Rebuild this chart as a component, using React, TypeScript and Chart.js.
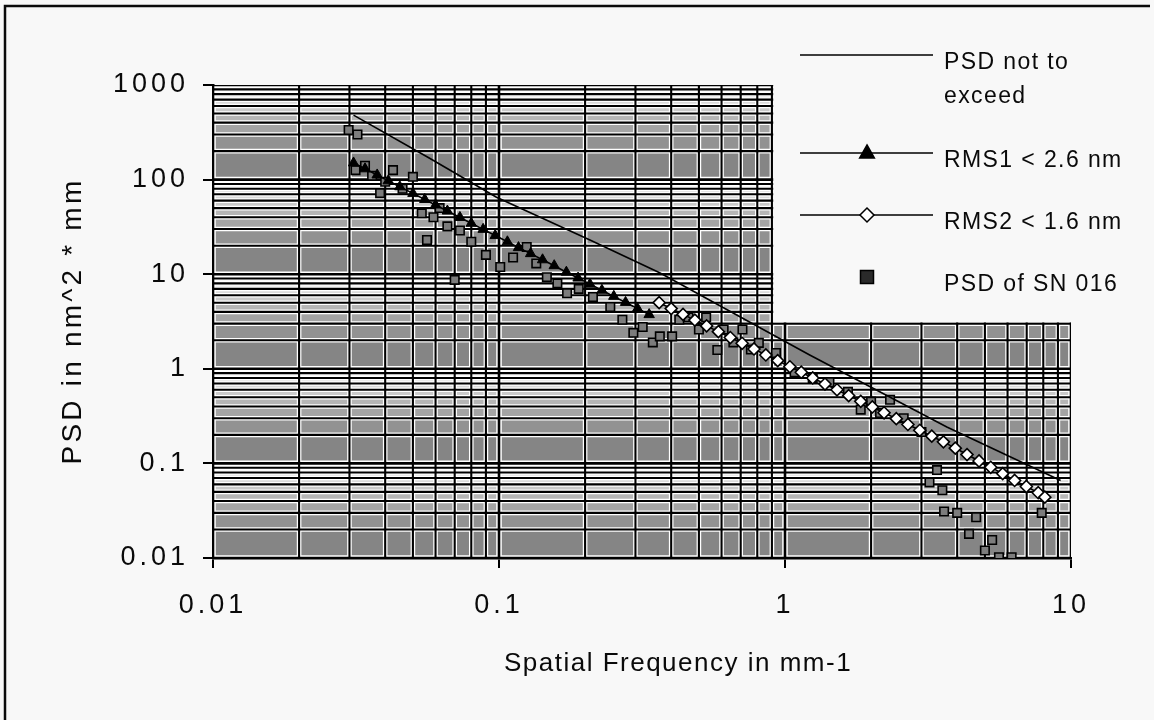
import React, { useEffect, useRef } from 'react';
import { Chart, registerables } from 'chart.js';

Chart.register(...registerables);

// ---------- data ----------
const SERIES_NAMES = ['PSD not to exceed', 'RMS1 < 2.6 nm', 'RMS2 < 1.6 nm', 'PSD of SN 016'];

const LIMIT_FREQ = [0.031, 0.057, 0.098, 0.208, 0.366, 1.22, 3.68, 9.2];
const LIMIT_PSD = [480, 169, 65, 23, 10.3, 1.4, 0.243, 0.066];

const RMS1_FREQ = [0.031, 0.034, 0.0375, 0.041, 0.045, 0.05, 0.055, 0.06, 0.066, 0.073, 0.08, 0.088, 0.097, 0.107, 0.117, 0.129, 0.142, 0.156, 0.172, 0.189, 0.208, 0.229, 0.252, 0.277, 0.305, 0.335];
const RMS1_PSD = [150, 130, 112, 97, 84, 71.5, 61.7, 53.9, 46.5, 39.8, 34.5, 29.8, 25.6, 22.0, 19.1, 16.5, 14.2, 12.3, 10.5, 9.1, 7.85, 6.76, 5.83, 5.03, 4.34, 3.74];

const RMS2_FREQ = [0.363, 0.4, 0.44, 0.484, 0.532, 0.585, 0.644, 0.708, 0.779, 0.857, 0.943, 1.04, 1.14, 1.25, 1.38, 1.52, 1.67, 1.84, 2.02, 2.22, 2.45, 2.69, 2.96, 3.26, 3.58, 3.94, 4.33, 4.77, 5.24, 5.77, 6.35, 6.98, 7.68, 8.1];
const RMS2_PSD = [5.0, 4.33, 3.76, 3.27, 2.84, 2.47, 2.14, 1.86, 1.62, 1.4, 1.22, 1.05, 0.92, 0.8, 0.69, 0.6, 0.52, 0.453, 0.395, 0.343, 0.297, 0.258, 0.224, 0.194, 0.169, 0.145, 0.124, 0.106, 0.091, 0.078, 0.066, 0.057, 0.049, 0.044];

const SN_FREQ = [0.0298, 0.032, 0.0315, 0.034, 0.036, 0.0384, 0.04, 0.0426, 0.046, 0.05, 0.0537, 0.056, 0.059, 0.062, 0.066, 0.07, 0.073, 0.08, 0.09, 0.101, 0.112, 0.125, 0.135, 0.147, 0.16, 0.173, 0.19, 0.213, 0.245, 0.27, 0.295, 0.318, 0.345, 0.365, 0.403, 0.427, 0.46, 0.5, 0.53, 0.58, 0.61, 0.66, 0.71, 0.76, 0.81, 0.93, 1.08, 1.25, 1.43, 1.66, 1.84, 2.0, 2.15, 2.33, 2.6, 3.0, 3.2, 3.4, 3.55, 3.6, 4.0, 4.4, 4.66, 5.0, 5.3, 5.6, 6.2, 6.8, 7.9];
const SN_PSD = [334, 300, 126, 140, 110, 72, 95, 126, 80, 107, 44, 23, 40, 50, 32, 8.7, 29, 22, 16, 11.9, 15, 19.4, 13, 9.3, 8, 6.3, 7, 5.75, 4.5, 3.3, 2.4, 2.77, 1.9, 2.2, 2.2, 3.3, 3.5, 2.6, 3.5, 1.58, 2.6, 1.9, 2.6, 1.6, 1.88, 1.47, 0.92, 0.8, 0.72, 0.57, 0.37, 0.45, 0.34, 0.47, 0.3, 0.215, 0.063, 0.085, 0.052, 0.031, 0.03, 0.018, 0.027, 0.012, 0.0155, 0.0102, 0.0102, 0.009, 0.03];

const X_TICKS = [0.01, 0.1, 1, 10];
const X_TICK_LABELS = ['0.01', '0.1', '1', '10'];
const Y_TICKS = [0.01, 0.1, 1, 10, 100, 1000];
const Y_TICK_LABELS = ['0.01', '0.1', '1', '10', '100', '1000'];

const X_TITLE = 'Spatial Frequency in mm-1';
const Y_TITLE = 'PSD in nm^2 * mm';

const FONT = '"Liberation Sans", Arial, Helvetica, sans-serif';
const BG = '#f8f8f8';
const INK = '#0a0a0a';

const pts = (xs: number[], ys: number[]) => xs.map((x, i) => ({ x, y: ys[i] }));

// ---------- drawing helpers ----------
function drawMarker(ctx: CanvasRenderingContext2D, kind: string, x: number, y: number, r: number) {
  ctx.save();
  ctx.lineWidth = 1.5;
  ctx.strokeStyle = '#000';
  ctx.beginPath();
  if (kind === 'triangle') {
    ctx.moveTo(x, y - r * 1.15);
    ctx.lineTo(x + r * 1.05, y + r * 0.7);
    ctx.lineTo(x - r * 1.05, y + r * 0.7);
    ctx.closePath();
    ctx.fillStyle = '#000';
  } else if (kind === 'diamond') {
    ctx.moveTo(x, y - r);
    ctx.lineTo(x + r, y);
    ctx.lineTo(x, y + r);
    ctx.lineTo(x - r, y);
    ctx.closePath();
    ctx.fillStyle = '#fff';
  } else {
    ctx.rect(x - r, y - r, 2 * r, 2 * r);
    ctx.fillStyle = '#2a2a2a';
  }
  ctx.fill();
  ctx.stroke();
  ctx.restore();
}

const spacingPlugin = {
  id: 'spacing',
  beforeUpdate(chart: any) {
    (chart.ctx as any).letterSpacing = '4px';
  },
  beforeDraw(chart: any) {
    const ctx = chart.ctx;
    ctx.save();
    ctx.fillStyle = BG;
    ctx.fillRect(0, 0, chart.width, chart.height);
    ctx.restore();
    (ctx as any).letterSpacing = '4px';
  },
};

const gridPlugin = {
  id: 'scanGrid',
  beforeDatasetsDraw(chart: any) {
    const { ctx, chartArea: a, scales } = chart;
    const xs = scales.x;
    const ys = scales.y;
    ctx.save();
    ctx.beginPath();
    ctx.rect(a.left, a.top, a.right - a.left, a.bottom - a.top);
    ctx.clip();
    const bandColors = ['#858585', '#929292', '#a4a4a4', '#b6b6b6', '#cacaca', '#dadada', '#e4e4e4', '#eaeaea', '#eeeeee'];
    for (let d = -2; d <= 2; d++) {
      for (let k = 1; k <= 9; k++) {
        const y0 = ys.getPixelForValue((k + 1) * Math.pow(10, d));
        const y1 = ys.getPixelForValue(k * Math.pow(10, d));
        ctx.fillStyle = bandColors[k - 1];
        ctx.fillRect(a.left, y0, a.right - a.left, y1 - y0);
      }
    }
    const xl: number[] = [];
    for (let d = -2; d <= 0; d++) for (let k = 1; k <= 9; k++) xl.push(k * Math.pow(10, d));
    xl.push(10);
    const yl: number[] = [];
    for (let d = -2; d <= 2; d++) for (let k = 1; k <= 9; k++) yl.push(k * Math.pow(10, d));
    yl.push(1000);
    const strokeAll = (w: number, col: string, majorW: number) => {
      ctx.strokeStyle = col;
      for (const v of xl) {
        const p = xs.getPixelForValue(v);
        const major = Math.abs(Math.log10(v) - Math.round(Math.log10(v))) < 1e-6;
        ctx.lineWidth = major ? majorW : w;
        ctx.beginPath();
        ctx.moveTo(p, a.top);
        ctx.lineTo(p, a.bottom);
        ctx.stroke();
      }
      for (const v of yl) {
        const p = ys.getPixelForValue(v);
        const major = Math.abs(Math.log10(v) - Math.round(Math.log10(v))) < 1e-6;
        ctx.lineWidth = major ? majorW : w;
        ctx.beginPath();
        ctx.moveTo(a.left, p);
        ctx.lineTo(a.right, p);
        ctx.stroke();
      }
    };
    strokeAll(4.6, '#ffffff', 5.6);
    strokeAll(2.1, '#000000', 2.6);
    ctx.restore();

    // legend box covering the upper-right part of the plot
    const lx = xs.getPixelForValue(0.9) + 1.3;
    const ly = ys.getPixelForValue(3) - 1.3;
    ctx.save();
    ctx.fillStyle = BG;
    ctx.fillRect(lx, a.top - 4, a.right + 6 - lx, ly - (a.top - 4));
    ctx.restore();
  },
};

const overlayPlugin = {
  id: 'overlay',
  afterDraw(chart: any) {
    const ctx: CanvasRenderingContext2D = chart.ctx;
    ctx.save();
    (ctx as any).letterSpacing = '0px';
    // outer frame
    ctx.strokeStyle = INK;
    ctx.lineWidth = 2.5;
    ctx.beginPath();
    ctx.moveTo(5, 722);
    ctx.lineTo(5, 6);
    ctx.lineTo(1150, 6);
    ctx.stroke();

    // legend
    const rowsY = [55, 153, 215, 277];
    const kinds = ['none', 'triangle', 'diamond', 'square'];
    ctx.font = `23px ${FONT}`;
    (ctx as any).letterSpacing = '1.4px';
    ctx.fillStyle = INK;
    ctx.textAlign = 'left';
    ctx.textBaseline = 'alphabetic';
    const ds = chart.data.datasets;
    for (let i = 0; i < 4; i++) {
      const y = rowsY[i];
      if (i < 3) {
        ctx.strokeStyle = '#000';
        ctx.lineWidth = 1.6;
        ctx.beginPath();
        ctx.moveTo(800, y);
        ctx.lineTo(933, y);
        ctx.stroke();
      }
      if (kinds[i] !== 'none') drawMarker(ctx, kinds[i], 867, y, kinds[i] === 'square' ? 6.5 : 7);
      // wrap label
      const words = String(ds[i].label).split(' ');
      const lines: string[] = [];
      let cur = '';
      for (const w of words) {
        const t = cur ? cur + ' ' + w : w;
        if (cur && ctx.measureText(t).width > 190) {
          lines.push(cur);
          cur = w;
        } else cur = t;
      }
      if (cur) lines.push(cur);
      ctx.fillStyle = INK;
      lines.forEach((ln, j) => ctx.fillText(ln, 944, y + 14 + j * 34));
    }

    // axis titles
    ctx.font = `26px ${FONT}`;
    (ctx as any).letterSpacing = '1.5px';
    ctx.textAlign = 'center';
    ctx.fillText(X_TITLE, 678, 671);

    ctx.save();
    ctx.font = `28px ${FONT}`;
    (ctx as any).letterSpacing = '3.2px';
    ctx.translate(81, 321);
    ctx.rotate(-Math.PI / 2);
    ctx.textAlign = 'center';
    ctx.fillText(Y_TITLE, 0, 0);
    ctx.restore();

    ctx.restore();
  },
};

export default function App() {
  const ref = useRef<HTMLCanvasElement | null>(null);

  useEffect(() => {
    if (!ref.current) return;
    const chart = new Chart(ref.current, {
      type: 'scatter',
      data: {
        datasets: [
          {
            label: SERIES_NAMES[0],
            data: pts(LIMIT_FREQ, LIMIT_PSD),
            showLine: true,
            borderColor: '#000',
            borderWidth: 1.6,
            pointRadius: 0,
            fill: false,
          },
          {
            label: SERIES_NAMES[1],
            data: pts(RMS1_FREQ, RMS1_PSD),
            showLine: true,
            borderColor: '#000',
            borderWidth: 1.6,
            pointStyle: 'triangle',
            pointRadius: 6,
            pointBackgroundColor: '#000',
            pointBorderColor: '#000',
            pointBorderWidth: 1,
            fill: false,
          },
          {
            label: SERIES_NAMES[2],
            data: pts(RMS2_FREQ, RMS2_PSD),
            showLine: true,
            borderColor: '#000',
            borderWidth: 1.6,
            pointStyle: 'rectRot',
            pointRadius: 6,
            pointBackgroundColor: '#ffffff',
            pointBorderColor: '#000',
            pointBorderWidth: 1.6,
            fill: false,
          },
          {
            label: SERIES_NAMES[3],
            data: pts(SN_FREQ, SN_PSD),
            showLine: false,
            pointStyle: 'rect',
            pointRadius: 6,
            pointBackgroundColor: '#7c7c7c',
            pointBorderColor: '#000',
            pointBorderWidth: 1.6,
          },
        ],
      },
      options: {
        animation: false,
        responsive: false,
        devicePixelRatio: 1,
        layout: { padding: { top: 85, right: 83, left: 0, bottom: 0 } },
        plugins: {
          legend: { display: false },
          tooltip: { enabled: false },
          title: { display: false },
        },
        scales: {
          x: {
            type: 'logarithmic',
            position: 'bottom',
            min: 0.01,
            max: 10,
            afterBuildTicks: (s: any) => {
              s.ticks = X_TICKS.map((v) => ({ value: v }));
            },
            afterFit: (s: any) => {
              s.height = 162;
            },
            grid: { drawOnChartArea: false, drawTicks: true, tickLength: 10, color: '#000', lineWidth: 2 },
            border: { display: true, color: '#000', width: 2.5 },
            ticks: {
              autoSkip: false,
              maxRotation: 0,
              padding: 21,
              color: INK,
              font: { family: FONT, size: 27 },
              callback: (_v: any, i: number) => X_TICK_LABELS[i],
            },
            title: { display: false },
          },
          y: {
            type: 'logarithmic',
            position: 'left',
            min: 0.01,
            max: 1000,
            afterBuildTicks: (s: any) => {
              s.ticks = Y_TICKS.map((v) => ({ value: v }));
            },
            afterFit: (s: any) => {
              s.width = 213;
            },
            grid: { drawOnChartArea: false, drawTicks: true, tickLength: 10, color: '#000', lineWidth: 2 },
            border: { display: true, color: '#000', width: 2.5 },
            ticks: {
              autoSkip: false,
              padding: 14,
              color: INK,
              font: { family: FONT, size: 27 },
              callback: (_v: any, i: number) => Y_TICK_LABELS[i],
            },
            title: { display: false },
          },
        },
      } as any,
      plugins: [spacingPlugin, gridPlugin, overlayPlugin],
    });
    return () => chart.destroy();
  }, []);

  return (
    <div style={{ position: 'fixed', left: 0, top: 0, width: 1154, height: 720, background: BG }}>
      <canvas ref={ref} width={1154} height={720} style={{ display: 'block', width: 1154, height: 720 }} />
    </div>
  );
}
